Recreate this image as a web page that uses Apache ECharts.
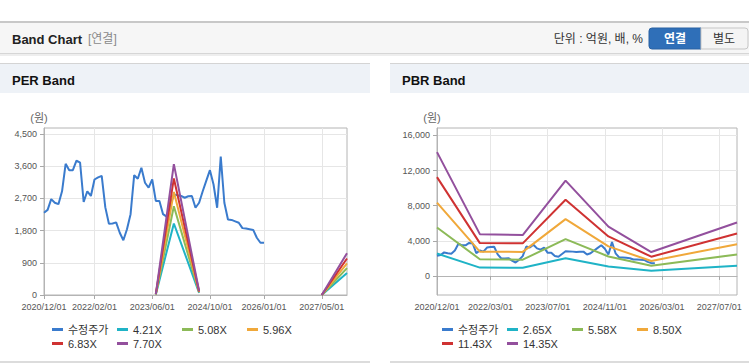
<!DOCTYPE html>
<html><head><meta charset="utf-8">
<script src="https://cdn.jsdelivr.net/npm/echarts@6/dist/echarts.min.js"></script>
<style>html,body{margin:0;padding:0;background:#fff;}#c{width:749px;height:364px;}</style>
</head><body><div id="c"></div>
<script>
// ---------- data ----------
const months = [];
for (let i = 0; i < 85; i++) {
  const y = 2020 + Math.floor((11 + i) / 12);
  const m = (11 + i) % 12 + 1;
  months.push(y + '/' + String(m).padStart(2, '0') + '/01');
}
const perLabelIdx = [0, 14, 30, 46, 61, 77];
const pbrLabelIdx = [0, 15, 31, 47, 63, 79];
const perYTicks = [0, 900, 1800, 2700, 3600, 4500];
const pbrYTicks = [0, 4000, 8000, 12000, 16000];

const price = [2300,2380,2680,2580,2540,2900,3670,3490,3490,3760,3700,2600,2900,2770,3230,3290,3330,2450,1990,2000,2030,1740,1530,1840,2260,3350,3250,3560,3140,3000,3230,2630,2630,2260,2190,2500,2810,2790,2770,2720,2760,2770,2440,2580,2900,3200,3490,3090,2440,3870,2580,2110,2100,2060,2020,1870,1860,1840,1820,1600,1460,1460];

const perNames = ['4.21X', '5.08X', '5.96X', '6.83X', '7.70X'];
const perBandMonths = ['2023/07/01', '2023/12/01', '2024/07/01', '2024/08/01', '2027/05/01', '2027/12/01'];
const per421 = [15, 2000, 60, '-', 0, 615];
const per508 = [18, 2480, 75, '-', 0, 750];
const per596 = [21, 2880, 85, '-', 0, 885];
const per683 = [24, 3260, 100, '-', 0, 1020];
const per770 = [27, 3660, 110, '-', 0, 1170];

const pbrNames = ['2.65X', '5.58X', '8.50X', '11.43X', '14.35X'];
const pbrBandMonths = ['2020/12/01', '2021/12/01', '2022/12/01', '2023/12/01', '2024/12/01', '2025/12/01', '2027/12/01'];
const pbr265 = [2550, 950, 940, 2010, 1070, 590, 1160];
const pbr558 = [5520, 1900, 1850, 4190, 2220, 1160, 2450];
const pbr850 = [8350, 2770, 2740, 6470, 3370, 1710, 3620];
const pbr1143 = [11250, 3740, 3710, 8680, 4500, 2190, 4840];
const pbr1435 = [14100, 4760, 4650, 10860, 5620, 2720, 6090];

const bandColors = ['#1fb3c6', '#8cba58', '#f0a83a', '#cf3232', '#93509d'];
const priceColor = '#3a7bcd';

// ---------- build ----------
const FONT = "'Liberation Sans','Noto Sans CJK KR',sans-serif";
const pairs = (ms, vs) => ms.map((m, i) => [m, vs[i]]);

function xAxis(gi, idxs) {
  const f = (i) => idxs.indexOf(i) >= 0;
  return {
    type: 'category', gridIndex: gi, data: months, boundaryGap: false,
    axisLine: { show: true, lineStyle: { color: '#b4b4b4' } },
    axisTick: { show: true, interval: f, length: 4, lineStyle: { color: '#a8a8a8' } },
    axisLabel: { interval: f, fontSize: 9, color: '#555', margin: 7, fontFamily: FONT },
    splitLine: { show: true, interval: f, lineStyle: { color: '#e6e6e6' } }
  };
}
function yAxis(gi, min, max, ticks) {
  return {
    type: 'value', gridIndex: gi, min: min, max: max,
    axisLine: { show: true, lineStyle: { color: '#b4b4b4' } },
    axisTick: { show: true, length: 4, customValues: ticks, lineStyle: { color: '#a8a8a8' } },
    axisLabel: { customValues: ticks, fontSize: 9, color: '#555', margin: 7, fontFamily: FONT },
    splitLine: { show: true, lineStyle: { color: '#e6e6e6' } }
  };
}
function line(name, color, data, gi) {
  return {
    type: 'line', name: name, xAxisIndex: gi, yAxisIndex: gi, data: data,
    color: color, showSymbol: false, symbol: 'none', connectNulls: false,
    lineStyle: { width: 2, color: color }, animation: false, silent: true
  };
}
function legend(left, top, data) {
  return {
    left: left, top: top, data: data, orient: 'horizontal', itemGap: 0, padding: 0,
    itemWidth: 11, itemHeight: 3, icon: 'rect', selectedMode: false,
    textStyle: { fontSize: 11, color: '#333', width: 49, lineHeight: 13, fontFamily: FONT }
  };
}

const perSeries = [line('수정주가', priceColor, price, 0)];
[per421, per508, per596, per683, per770].forEach((v, i) =>
  perSeries.push(line(perNames[i], bandColors[i], pairs(perBandMonths, v), 0)));
const pbrSeries = [line('수정주가', priceColor, price, 1)];
[pbr265, pbr558, pbr850, pbr1143, pbr1435].forEach((v, i) =>
  pbrSeries.push(line(pbrNames[i], bandColors[i], pairs(pbrBandMonths, v), 1)));

const g = [];
// top header bar
g.push({ type: 'rect', shape: { x: 0, y: 21, width: 749, height: 2 }, style: { fill: '#c8c8c8' } });
g.push({ type: 'rect', shape: { x: 0, y: 23, width: 749, height: 30 }, style: { fill: '#f6f6f6' } });
g.push({ type: 'rect', shape: { x: 0, y: 53, width: 749, height: 1 }, style: { fill: '#d6d6d6' } });
g.push({ type: 'rect', shape: { x: 0, y: 54, width: 749, height: 2 }, style: { fill: '#eeeeee' } });
g.push({ type: 'text', x: 12, y: 39, style: { text: 'Band Chart', font: "bold 13px " + FONT, fill: '#222', textVerticalAlign: 'middle' } });
g.push({ type: 'text', x: 88, y: 39, style: { text: '[연결]', font: "12px " + FONT, fill: '#8a8a8a', textVerticalAlign: 'middle' } });
g.push({ type: 'text', x: 643, y: 39, style: { text: '단위 : 억원, 배, %', font: "12px " + FONT, fill: '#333', textAlign: 'right', textVerticalAlign: 'middle' } });
g.push({ type: 'rect', shape: { x: 649, y: 28, width: 52, height: 21, r: [3, 0, 0, 3] }, style: { fill: '#2f6fb8', stroke: '#2a62a3', lineWidth: 1 } });
g.push({ type: 'text', x: 675, y: 39, style: { text: '연결', font: "bold 12px " + FONT, fill: '#fff', textAlign: 'center', textVerticalAlign: 'middle' } });
g.push({ type: 'rect', shape: { x: 701, y: 28, width: 47, height: 21, r: [0, 3, 3, 0] }, style: { fill: '#f4f4f4', stroke: '#c6c6c6', lineWidth: 1 } });
g.push({ type: 'text', x: 724, y: 39, style: { text: '별도', font: "12px " + FONT, fill: '#333', textAlign: 'center', textVerticalAlign: 'middle' } });
// panels
[[0, 370, 'PER Band', 39], [390, 359, 'PBR Band', 432]].forEach(p => {
  g.push({ type: 'rect', shape: { x: p[0], y: 63, width: p[1], height: 1 }, style: { fill: '#d4d4d4' } });
  g.push({ type: 'rect', shape: { x: p[0], y: 64, width: p[1], height: 29 }, style: { fill: '#eef2f7' } });
  g.push({ type: 'rect', shape: { x: p[0], y: 361, width: p[1], height: 2 }, style: { fill: '#dcdcdc' } });
  g.push({ type: 'text', x: p[0] + 12, y: 80, style: { text: p[2], font: "bold 13px " + FONT, fill: '#111', textVerticalAlign: 'middle' } });
  g.push({ type: 'text', x: p[3], y: 118, style: { text: '(원)', font: "11px " + FONT, fill: '#666', textAlign: 'center', textVerticalAlign: 'middle' } });
});

const option = {
  animation: false,
  grid: [
    { left: 44, top: 128, width: 303, height: 167, show: true, borderColor: '#b4b4b4', borderWidth: 1, backgroundColor: '#fff' },
    { left: 437, top: 128, width: 300, height: 167, show: true, borderColor: '#b4b4b4', borderWidth: 1, backgroundColor: '#fff' }
  ],
  xAxis: [xAxis(0, perLabelIdx), xAxis(1, pbrLabelIdx)],
  yAxis: [yAxis(0, 0, 4670, perYTicks), yAxis(1, -2170, 16850, pbrYTicks)],
  legend: [
    legend(52, 323, ['수정주가', '4.21X', '5.08X', '5.96X']),
    legend(52, 337, ['6.83X', '7.70X']),
    legend(442, 323, ['수정주가', '2.65X', '5.58X', '8.50X']),
    legend(442, 337, ['11.43X', '14.35X'])
  ],
  graphic: g,
  series: perSeries.concat(pbrSeries)
};
const chart = echarts.init(document.getElementById('c'), null, { renderer: 'svg' });
chart.setOption(option);
</script></body></html>
